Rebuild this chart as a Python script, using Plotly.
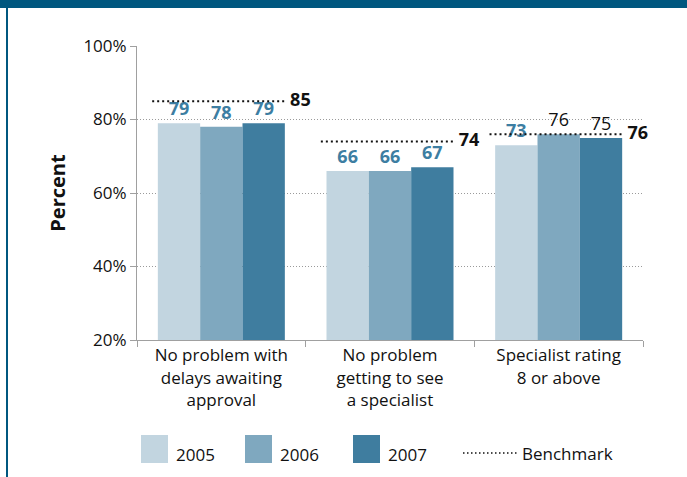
import plotly.graph_objects as go

# ---- data ----
categories = ["No problem with<br>delays awaiting<br>approval",
              "No problem<br>getting to see<br>a specialist",
              "Specialist rating<br>8 or above"]
years = ["2005", "2006", "2007"]
values_2005 = [79, 66, 73]
values_2006 = [78, 66, 76]
values_2007 = [79, 67, 75]
benchmark = [85, 74, 76]
y_ticks = [20, 40, 60, 80, 100]
y_tick_labels = ["20%", "40%", "60%", "80%", "100%"]

# ---- styling ----
FONT = "Open Sans"
colors = {"2005": "#c2d5e0", "2006": "#7fa8bf", "2007": "#3f7d9f"}
LABEL_BLUE = "#3d7ea2"
FRAME_BLUE = "#00577f"
# label style per series per category: True = bold blue, False = regular black
label_bold = {"2005": [True, True, True],
              "2006": [True, True, False],
              "2007": [True, True, False]}

series = {"2005": values_2005, "2006": values_2006, "2007": values_2007}
xpos = list(range(len(categories)))

W, H = 687, 477
L, R, T, B = 137, 44, 46, 137
PW, PH = W - L - R, H - T - B


def px(x):
    return (x - L) / PW


def py(y):
    return (H - B - y) / PH


fig = go.Figure()
for yr in years:
    vals = series[yr]
    texts = [f"<b>{v}</b>" if b else f"{v}" for v, b in zip(vals, label_bold[yr])]
    tcolors = [LABEL_BLUE if b else "#111111" for b in label_bold[yr]]
    fig.add_trace(go.Bar(
        x=xpos, y=vals, name=yr, marker=dict(color=colors[yr], line=dict(width=0)),
        text=texts, textposition="outside", cliponaxis=False,
        textfont=dict(family=FONT, size=18, color=tcolors),
        showlegend=False, hoverinfo="x+y",
    ))

# benchmark dotted lines with labels
bx, by, bt = [], [], []
for i, b in zip(xpos, benchmark):
    bx += [i - 0.41, i + 0.39, None]
    by += [b, b, None]
    bt += ["", f"\u2009<b>{b}</b>", ""]
fig.add_trace(go.Scatter(
    x=bx, y=by, mode="lines+text", text=bt, textposition="middle right",
    textfont=dict(family=FONT, size=18, color="#111111"),
    line=dict(color="#111111", width=2, dash="2px,3px"),
    showlegend=False, cliponaxis=False, hoverinfo="skip",
))

fig.update_layout(
    width=W, height=H, margin=dict(l=L, r=R, t=T, b=B),
    paper_bgcolor="white", plot_bgcolor="white",
    barmode="group", bargap=0.247, bargroupgap=0,
    font=dict(family=FONT, size=17, color="#111111"),
    showlegend=False,
)
fig.update_xaxes(
    range=[-0.5, 2.5], tickvals=xpos, ticktext=categories, ticks="",
    showgrid=False, zeroline=False, showline=True, linecolor="#a0a0a0", linewidth=1,
    tickfont=dict(family=FONT, size=17, color="#111111"),
    minor=dict(tickvals=[-0.5, 0.5, 1.5, 2.5], ticks="outside", ticklen=6,
               tickcolor="#a0a0a0", tickwidth=1, showgrid=False),
)
fig.update_yaxes(
    range=[20, 100], tickvals=y_ticks, ticktext=y_tick_labels, ticks="outside", ticklen=6,
    tickcolor="#a0a0a0", tickwidth=1,
    showgrid=True, gridcolor="#9a9a9a", gridwidth=1, griddash="1px,2px",
    zeroline=False, showline=True, linecolor="#a0a0a0", linewidth=1,
    tickfont=dict(family=FONT, size=17, color="#111111"),
    title=dict(text="<b>Percent</b>", font=dict(family=FONT, size=20, color="#111111"),
               standoff=12),
)

shapes = []
annotations = []
# frame: top band and left border
shapes.append(dict(type="rect", xref="paper", yref="paper", x0=px(0), x1=px(W), y0=py(8), y1=py(0),
                   fillcolor=FRAME_BLUE, line=dict(width=0), layer="above"))
shapes.append(dict(type="rect", xref="paper", yref="paper", x0=px(6), x1=px(8), y0=py(H), y1=py(8),
                   fillcolor=FRAME_BLUE, line=dict(width=0), layer="above"))

# legend (drawn manually)
legend_sq_x = {"2005": 141, "2006": 245, "2007": 353}
for yr in years:
    x0 = legend_sq_x[yr]
    shapes.append(dict(type="rect", xref="paper", yref="paper", x0=px(x0), x1=px(x0 + 27),
                       y0=py(463), y1=py(435), fillcolor=colors[yr], line=dict(width=0)))
    annotations.append(dict(xref="paper", yref="paper", x=px(x0 + 33), y=py(454), text=yr,
                            showarrow=False, xanchor="left", yanchor="middle",
                            font=dict(family=FONT, size=17, color="#111111")))
shapes.append(dict(type="line", xref="paper", yref="paper", x0=px(463), x1=px(518),
                   y0=py(453), y1=py(453), line=dict(color="#111111", width=1.5, dash="1.5px,2.5px")))
annotations.append(dict(xref="paper", yref="paper", x=px(520), y=py(453), text="Benchmark",
                        showarrow=False, xanchor="left", yanchor="middle",
                        font=dict(family=FONT, size=17, color="#111111")))

fig.update_layout(shapes=shapes, annotations=annotations)
fig.write_html("out.html", config={"displayModeBar": False},
               post_script="document.body.style.margin='0';document.body.style.overflow='hidden';")
